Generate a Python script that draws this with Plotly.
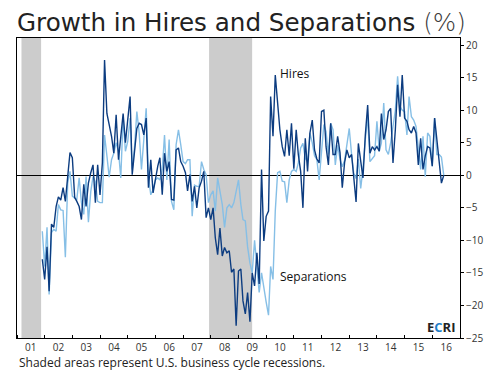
import plotly.graph_objects as go
import pandas as pd

# ---- data (monthly y/y growth, %), Dec 2001 .. Jun 2016 ----
start_month = "2001-12-01"
hires = [
    -12.9, -16, -11, -17.8, -7.5, -8, -4.8, -3.3, -3.8, -1.9,
    -4, 0, 3.5, 2.7, -3.4, -4, -4.8, -6.8, -1.4, -4.8,
    -1.2, 0.4, 1.6, -4.2, 1.6, -3, 1.9, 17.7, 9.5, 7.8,
    6, 3.4, 9.3, 2.4, 6.2, 9.5, 5, 9, 12.1, 0.1,
    4, 7.2, 8, 7.8, 6.2, 8.8, -1.9, 2.4, -2.7, -0.4,
    1.4, 2.7, -3, 3.4, 0.6, 2.1, -3.7, -3.8, 3.9, 4.2,
    2.1, 1.4, 0.4, -2.4, 0.1, -4, -1.7, -5, -1.9, -0.9,
    0.6, -6.5, -5, -6.8, -5, -9.6, -12.2, -8.1, -12.4, -11.1,
    -11.9, -11.6, -14.9, -14.4, -23.1, -14.7, -14.4, -19.3, -21.3, -18,
    -22.5, -15, -17, -11.9, -16.7, 0.9, -10.1, -6.3, -5.5, 12.1,
    6, 15.4, 10.8, 7, 4.4, 2.9, 7, 3, 8, 1,
    7, 3.2, 0.6, -5, 5.7, 0.6, 6.5, 8.5, 3.9, 2.5,
    1.9, 9.8, 10, 4.4, 1.6, 8, 3.2, 3.2, 6, 3.5,
    -1.9, 2, 3.9, 2.7, 3.2, -0.2, -4.1, 4.9, 2, -0.4,
    6.2, 10.8, 3.4, 4.4, 3.9, 4.4, 3.7, 9.5, 5.5, 7,
    9.8, 10.3, 1.9, 7, 13.9, 9, 15.4, 8.8, 8.3, 7,
    6.5, 7.5, 6.5, 1.6, 5.7, 0.9, 3, 4.4, 4.2, 1.4,
    8.8, 5.5, 2.2, -1.2, 0,
]
separations = [
    -8.6, -14, -8, -18.3, -8.8, -8.3, -8.6, -4.5, -5.3, -5.4,
    -12.6, -1.2, 0.6, -3.2, -3.5, -3.7, -0.4, -4.2, -6, -0.2,
    -7.2, -2.5, -0.2, -1, -4, -4.2, -4.2, 6.2, 3, -0.3,
    2.4, 3.4, 5, 3.7, -0.4, 9, 3.7, 5.2, 8.8, 0.9,
    4.4, 9.8, 6.5, 0.9, 5.5, 10.3, -0.2, -3, -2.2, -0.7,
    -0.4, -0.7, 0.9, 6.2, -0.7, 5.5, -4, -5.3, 4.7, 7,
    4.7, 2.1, 1.8, 2.4, 2.4, -6.3, -1.5, -1.7, -1.7, 2.1,
    0.9, 0.1, -4.2, -3, -2.4, -5.5, -0.4, -2.4, -4.5, -8,
    -5, -4.5, -5, -4.2, -2.7, -0.7, -4.5, -6.8, -7, -11,
    -13.5, -15, -10, -14.5, -18, -15, -17.5, -19.5, -21.5, -14,
    -16, -5.5, 0.4, 0.6, -0.9, -1, -4.2, -0.7, 0.6, 0.9,
    0.6, 1.9, 4.2, 4.9, 2.6, 2.1, 6.5, 5, 3, 2.4,
    -0.7, 3.4, 7.8, 6.7, 3.2, 8, 7, 1.6, 4.6, 2.5,
    1.3, 2.3, 4.4, 7.2, 3.2, 0.3, -0.5, 2.5, -2, 1,
    5.5, 9, 2.1, 2.6, 3, 8.3, 3.7, 5, 11.1, 3.9,
    3.2, 5, 7.5, 10, 15.2, 10.6, 10, 9.8, 6.2, 12.1,
    9, 8.5, 7.5, 3.7, 0.9, 6, -0.2, 6.5, 6, 1.4,
    8.8, 3.2, 3.2, 2.8, 0,
]
recession_starts = ["2001-03-01", "2007-12-10"]
recession_ends = ["2001-11-15", "2009-06-30"]
x_range = ["2001-01-01", "2017-01-01"]
y_range = [-25, 21.1]
y_ticks = [-25, -20, -15, -10, -5, 0, 5, 10, 15, 20]

dates = pd.date_range(start_month, periods=len(hires), freq="MS")

FONT = "Open Sans"
TITLE_FONT = "DejaVu Sans"
DARK = "#222222"
HIRES_C = "#0c3c80"
SEP_C = "#86bfe6"

fig = go.Figure()
fig.add_trace(go.Scatter(x=dates, y=separations, mode="lines",
                         line=dict(color=SEP_C, width=1.4), name="Separations"))
fig.add_trace(go.Scatter(x=dates, y=hires, mode="lines",
                         line=dict(color=HIRES_C, width=1.4), name="Hires"))

for s, e in zip(recession_starts, recession_ends):
    fig.add_vrect(x0=s, x1=e, fillcolor="#cccccc", opacity=1, line_width=0, layer="below")

fig.update_layout(
    width=495, height=375,
    margin=dict(l=17, r=29, t=38, b=37),
    paper_bgcolor="white", plot_bgcolor="white",
    showlegend=False,
    font=dict(family=FONT, color=DARK),
    title=dict(
        text='Growth in Hires and Separations <span style="font-weight:300;color:#3a3a3a">(%)</span>',
        x=17/495, xanchor="left", xref="container",
        y=1 - 22/375, yanchor="middle", yref="container",
        font=dict(family=TITLE_FONT, size=24.6, color=DARK),
    ),
    xaxis=dict(
        type="date", range=x_range, dtick="M12", tick0="2001-01-01",
        tickformat="%y", ticklabelmode="period",
        ticks="inside", ticklen=3, tickcolor="black",
        showline=True, linecolor="black", linewidth=1, mirror=True,
        showgrid=False, zeroline=False,
        tickfont=dict(size=10, color="#333333", family=FONT),
    ),
    yaxis=dict(
        side="right", range=y_range, tickvals=y_ticks,
        ticks="outside", ticklen=3, tickcolor="black",
        showline=True, linecolor="black", linewidth=1, mirror=True,
        showgrid=False, zeroline=True, zerolinecolor="black", zerolinewidth=1,
        tickfont=dict(size=10, color="#333333", family=FONT),
    ),
    annotations=[
        dict(x="2010-06-10", y=15.7, xref="x", yref="y", text="Hires",
             showarrow=False, xanchor="left", yanchor="middle",
             font=dict(size=12, color="#111111", family=FONT)),
        dict(x="2010-06-10", y=-15.6, xref="x", yref="y", text="Separations",
             showarrow=False, xanchor="left", yanchor="middle",
             font=dict(size=12, color="#111111", family=FONT)),
        dict(x=0.993, y=0.036, xref="paper", yref="paper",
             text='<b>E<span style="color:#1f7fc8">C</span>RI</b>',
             showarrow=False, xanchor="right", yanchor="middle",
             font=dict(size=13, color=DARK, family=FONT)),
        dict(x=0, y=-0.08, xref="paper", yref="paper",
             text="Shaded areas represent U.S. business cycle recessions.",
             showarrow=False, xanchor="left", yanchor="middle",
             font=dict(size=12, color=DARK, family=FONT)),
    ],
)

fig.write_html("out.html", config={"displayModeBar": False},
               post_script="document.body.style.margin='0';")
